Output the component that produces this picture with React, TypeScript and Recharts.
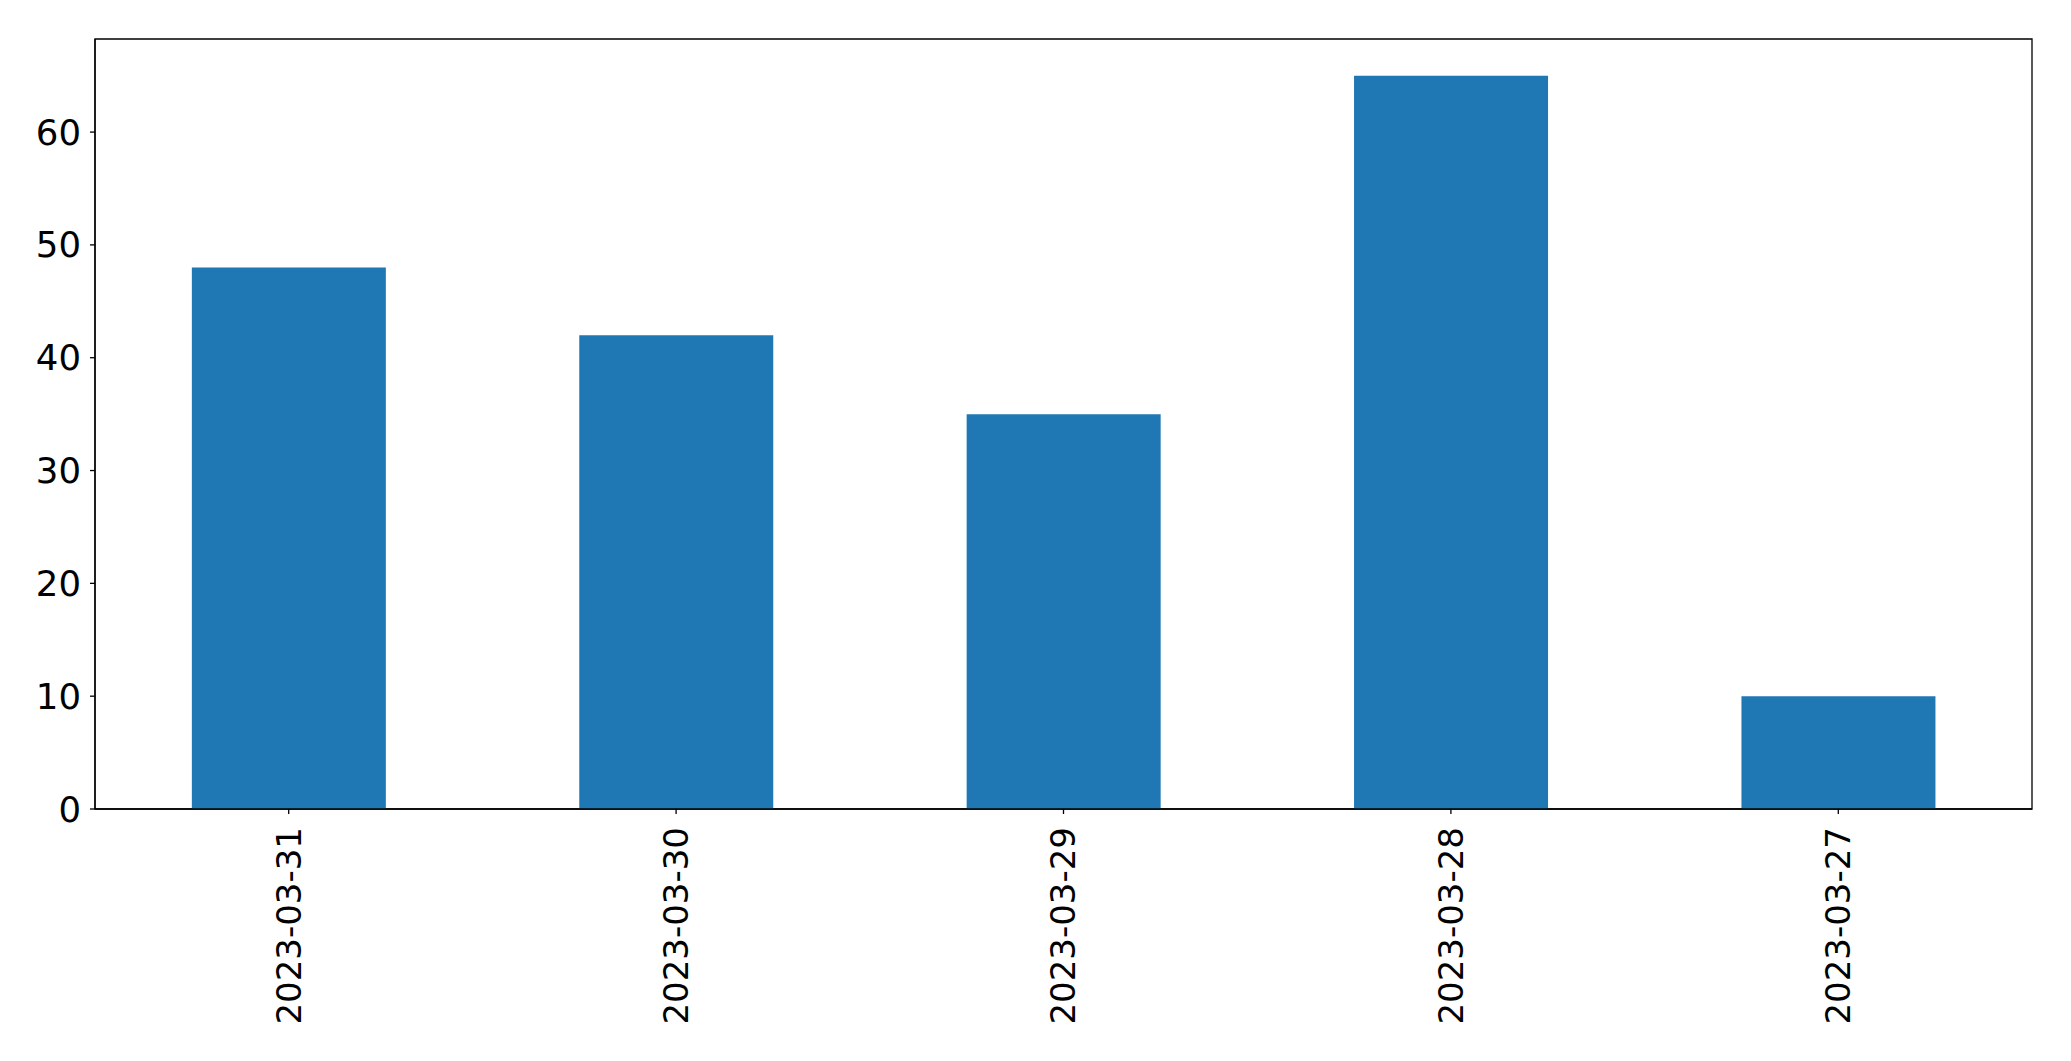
import { BarChart, Bar, XAxis, YAxis, ReferenceArea } from 'recharts'

const dates = ['2023-03-31', '2023-03-30', '2023-03-29', '2023-03-28', '2023-03-27']
const counts = [48, 42, 35, 65, 10]
const yTicks = [0, 10, 20, 30, 40, 50, 60]
const yMax = 68.25

const data = dates.map((d, i) => ({ date: d, count: counts[i] }))

const FONT = '"DejaVu Sans", sans-serif'

const DateTick = (props: any) => {
  const { x, y, payload } = props
  return (
    <g transform={`translate(${x},${y})`}>
      <text
        x={0}
        y={0}
        dy="0.35em"
        textAnchor="end"
        transform="rotate(-90)"
        fill="#000"
        fontSize={34}
        fontFamily={FONT}
      >
        {payload.value}
      </text>
    </g>
  )
}

export default function App() {
  return (
    <div style={{ position: 'absolute', left: 0, top: 0, background: '#fff' }}>
      <BarChart
        width={2071}
        height={1061}
        data={data}
        margin={{ top: 39, right: 39, left: 0, bottom: 0 }}
        barCategoryGap="25%"
      >
        <XAxis
          dataKey="date"
          height={252}
          tick={<DateTick />}
          tickSize={5}
          tickMargin={13}
          interval={0}
          axisLine={{ stroke: '#000', strokeWidth: 1.3 }}
          tickLine={{ stroke: '#000', strokeWidth: 1.3 }}
        />
        <YAxis
          width={95}
          domain={[0, yMax]}
          ticks={yTicks}
          tickSize={5}
          tickMargin={9}
          axisLine={{ stroke: '#000', strokeWidth: 1.3 }}
          tickLine={{ stroke: '#000', strokeWidth: 1.3 }}
          tick={{ fill: '#000', fontSize: 35.5, fontFamily: FONT }}
        />
        <Bar dataKey="count" fill="#1f77b4" isAnimationActive={false} />
        <ReferenceArea y1={0} y2={yMax} fill="none" stroke="#000" strokeWidth={1.3} ifOverflow="visible" />
      </BarChart>
    </div>
  )
}
